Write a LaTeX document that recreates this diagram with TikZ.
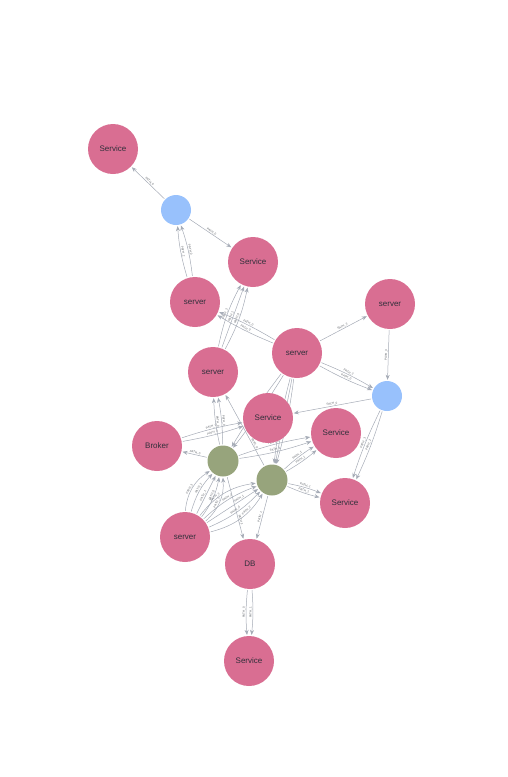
\documentclass[tikz,border=0pt]{standalone}
\usepackage{fontspec}
\setmainfont{Liberation Sans}
\usetikzlibrary{arrows.meta, backgrounds}
\definecolor{svcpink}{HTML}{D96E92}
\definecolor{hubblue}{HTML}{98C1FC}
\definecolor{juncgreen}{HTML}{97A47C}
\definecolor{edgegray}{HTML}{A5ABB6}
\definecolor{inkdark}{HTML}{2F2F3A}
\tikzset{
  svc/.style={circle, fill=svcpink, minimum size=50pt, inner sep=0pt, font=\fontsize{8}{9}\selectfont, text=inkdark},
  hub/.style={circle, fill=hubblue, minimum size=30pt, inner sep=0pt},
  junc/.style={circle, fill=juncgreen, minimum size=31pt, inner sep=0pt},
  arr/.style={-{Stealth[length=5pt,width=4pt]}, line width=0.5pt, edgegray, shorten >=1pt, shorten <=1pt},
  lbl/.style={font=\fontsize{3}{3}\selectfont, text=edgegray!60!black, sloped, midway, above, inner sep=0.4pt},
}

\begin{document}
\begin{tikzpicture}[x=1pt,y=-1pt]
\useasboundingbox (0,0) rectangle (507,777);
% nodes
\node[svc] (s1) at (113,149) {Service};
\node[hub] (b1) at (176,210) {};
\node[svc] (s2) at (253,262) {Service};
\node[svc] (sv1) at (195,302) {server};
\node[svc] (sv2) at (297,353) {server};
\node[svc] (sv3) at (390,304) {server};
\node[svc] (sv4) at (213,372) {server};
\node[hub] (b2) at (387,396) {};
\node[svc] (s3) at (268,418) {Service};
\node[svc] (s4) at (336,433) {Service};
\node[svc] (broker) at (157,446) {Broker};
\node[junc] (g1) at (223,461) {};
\node[junc] (g2) at (272,480) {};
\node[svc] (s5) at (345,503) {Service};
\node[svc] (sv5) at (185,537) {server};
\node[svc] (db) at (250,564) {DB};
\node[svc] (s6) at (249,661) {Service};
% relationships
\begin{scope}[on background layer]
\draw[arr] (b1) -- node[lbl]{PATH\_0} (s1);
\draw[arr] (b1) -- node[lbl]{PATH\_0} (s2);
\draw[arr] (sv1) to[bend left=6] node[lbl]{PATH\_2} (b1);
\draw[arr] (sv1) to[bend right=6] node[lbl]{PATH\_0} (b1);
\draw[arr] (sv4) to[bend left=8] node[lbl]{PATH\_2} (s2);
\draw[arr] (sv4) -- node[lbl]{PATH\_1} (s2);
\draw[arr] (sv4) to[bend right=8] node[lbl]{PATH\_0} (s2);
\draw[arr] (sv2) to[bend left=4] node[lbl]{PATH\_0} (sv1);
\draw[arr] (sv2) to[bend right=4] node[lbl]{PATH\_0} (sv1);
\draw[arr] (sv2) -- node[lbl]{PATH\_3} (sv3);
\draw[arr] (sv3) -- node[lbl]{PATH\_3} (b2);
\draw[arr] (sv2) to[bend left=4] node[lbl]{PATH\_2} (b2);
\draw[arr] (sv2) to[bend right=4] node[lbl]{PATH\_0} (b2);
\draw[arr] (b2) -- node[lbl]{PATH\_0} (s3);
\draw[arr] (b2) to[bend right=4] node[lbl]{PATH\_3} (s5);
\draw[arr] (b2) to[bend left=4] node[lbl]{PATH\_2} (s5);
\draw[arr] (sv2) to[bend right=3] (g1);
\draw[arr] (sv2) to[bend left=3] (g1);
\draw[arr] (sv2) to[bend right=4] (g2);
\draw[arr] (sv2) -- (g2);
\draw[arr] (sv2) to[bend left=4] (g2);
\draw[arr] (broker) to[bend left=4] node[lbl]{PATH\_0} (s3);
\draw[arr] (broker) to[bend right=4] node[lbl]{PATH\_0} (s3);
\draw[arr] (g1) -- node[lbl]{PATH\_0} (broker);
\draw[arr] (g1) to[bend left=5] node[lbl]{PATH\_0} (sv4);
\draw[arr] (g1) to[bend right=5] node[lbl]{PATH\_0} (sv4);
\draw[arr] (g2) -- node[lbl, pos=0.3]{PATH\_0} (sv4);
\draw[arr] (g1) to[bend left=5] node[lbl]{PATH\_1} (s4);
\draw[arr] (g1) to[bend right=5] node[lbl]{PATH\_1} (s4);
\draw[arr] (g2) to[bend left=5] node[lbl]{PATH\_1} (s4);
\draw[arr] (g2) to[bend right=5] node[lbl]{PATH\_1} (s4);
\draw[arr] (g2) to[bend left=5] node[lbl]{PATH\_1} (s5);
\draw[arr] (g2) to[bend right=5] node[lbl]{PATH\_1} (s5);
\draw[arr] (g2) -- node[lbl]{PATH\_1} (db);
\draw[arr] (g1) -- node[lbl, pos=0.7]{PATH\_1} (db);
\draw[arr] (sv5) to[bend left=26] node[lbl, pos=0.45]{PATH\_3} (g1);
\draw[arr] (sv5) to[bend left=13] node[lbl, pos=0.55]{PATH\_2} (g1);
\draw[arr] (sv5) -- node[lbl, pos=0.45]{PATH\_1} (g1);
\draw[arr] (sv5) to[bend right=13] node[lbl, pos=0.55]{PATH\_0} (g1);
\draw[arr] (sv5) to[bend right=26] node[lbl, pos=0.45]{PATH\_2} (g1);
\draw[arr] (sv5) to[bend left=22] node[lbl, pos=0.35]{PATH\_3} (g2);
\draw[arr] (sv5) to[bend left=11] node[lbl, pos=0.5]{PATH\_2} (g2);
\draw[arr] (sv5) -- node[lbl, pos=0.65]{PATH\_1} (g2);
\draw[arr] (sv5) to[bend right=11] node[lbl, pos=0.5]{PATH\_0} (g2);
\draw[arr] (sv5) to[bend right=22] node[lbl, pos=0.65]{PATH\_2} (g2);
\draw[arr] (db) to[bend right=5] node[lbl]{PATH\_0} (s6);
\draw[arr] (db) to[bend left=5] node[lbl]{PATH\_1} (s6);
\end{scope}
\end{tikzpicture}
\end{document}
